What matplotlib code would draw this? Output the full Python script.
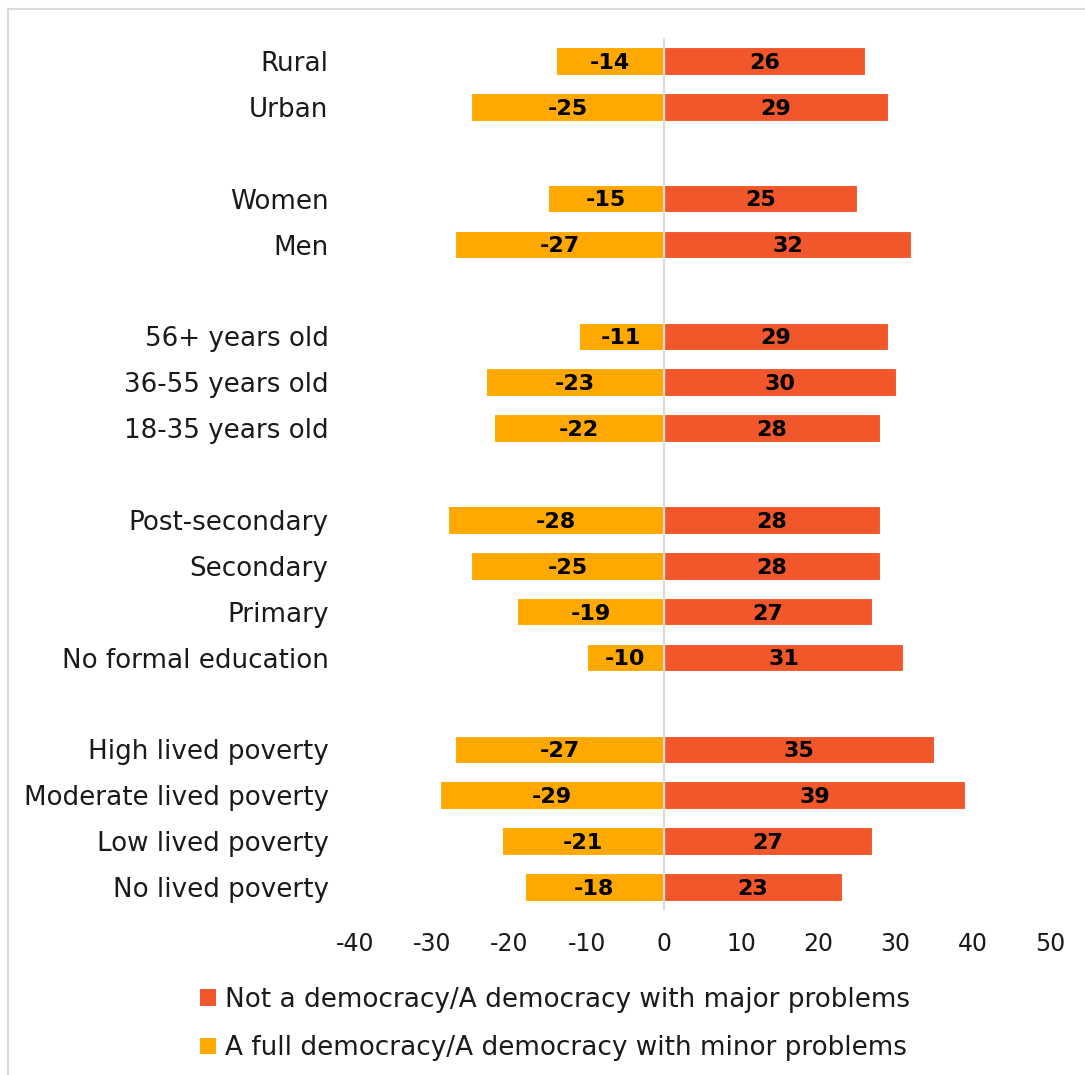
import matplotlib
matplotlib.use("Agg")
import matplotlib.pyplot as plt
from matplotlib.patches import Patch
from matplotlib.lines import Line2D
import numpy as np

labels = ["Rural", "Urban",
          "Women", "Men",
          "56+ years old", "36-55 years old", "18-35 years old",
          "Post-secondary", "Secondary", "Primary", "No formal education",
          "High lived poverty", "Moderate lived poverty", "Low lived poverty", "No lived poverty"]
group_sizes = [2, 2, 3, 4, 4]
full_minor = [-14, -25, -15, -27, -11, -23, -22, -28, -25, -19, -10, -27, -29, -21, -18]
not_major = [26, 29, 25, 32, 29, 30, 28, 28, 28, 27, 31, 35, 39, 27, 23]

red = "#F1572A"
amber = "#FFA800"
txt = "#1a1a1a"

# slot positions, one empty slot between groups
pos = []
slot = 0
for g in group_sizes:
    for i in range(g):
        pos.append(slot)
        slot += 1
    slot += 1
pos = np.array(pos)

plt.rcParams['font.family'] = ['DejaVu Sans']
plt.rcParams['axes.unicode_minus'] = False

fig = plt.figure(figsize=(10.85, 10.75), dpi=100)
ax = fig.add_axes([355 / 1085, 1 - 910 / 1075, 695 / 1085, 872 / 1075])

h = 0.6
ax.barh(pos, not_major, height=h, color=red, edgecolor="white", linewidth=0.8, zorder=2)
ax.barh(pos, full_minor, height=h, color=amber, edgecolor="white", linewidth=0.8, zorder=2)
ax.axvline(0, color="#D9D9D9", linewidth=1.5, zorder=3)

for y, a, b in zip(pos, full_minor, not_major):
    ax.text(a / 2, y + 0.04, str(a), ha="center", va="center", fontsize=16,
            fontweight="bold", color="black", zorder=4)
    ax.text(b / 2, y + 0.04, str(b), ha="center", va="center", fontsize=16,
            fontweight="bold", color="black", zorder=4)

ax.set_xlim(-40, 50)
ax.set_ylim(pos[-1] + 0.5, -0.5)
ax.set_xticks(range(-40, 51, 10))
ax.set_yticks(pos)
ax.set_yticklabels(labels)
ax.tick_params(axis="y", length=0, pad=19, labelsize=18.8, labelcolor=txt)
ax.tick_params(axis="x", length=0, pad=16, labelsize=17, labelcolor=txt)
for s in ax.spines.values():
    s.set_visible(False)

handles = [Patch(facecolor=red, label="Not a democracy/A democracy with major problems"),
           Patch(facecolor=amber, label="A full democracy/A democracy with minor problems")]
fig.legend(handles=handles, loc="center", bbox_to_anchor=(555 / 1085, 1 - 1024 / 1075),
           frameon=False, fontsize=18.9, handlelength=0.6, handleheight=0.6,
           handletextpad=0.35, labelspacing=0.85, labelcolor=txt)

# light frame on top and left edge
fig.add_artist(Line2D([8 / 1085, 8 / 1085], [0, 1 - 9 / 1075], transform=fig.transFigure,
                      color="#D9D9D9", linewidth=1.5))
fig.add_artist(Line2D([8 / 1085, 1], [1 - 9 / 1075, 1 - 9 / 1075], transform=fig.transFigure,
                      color="#D9D9D9", linewidth=1.5))

fig.savefig("out.png", dpi=100)
